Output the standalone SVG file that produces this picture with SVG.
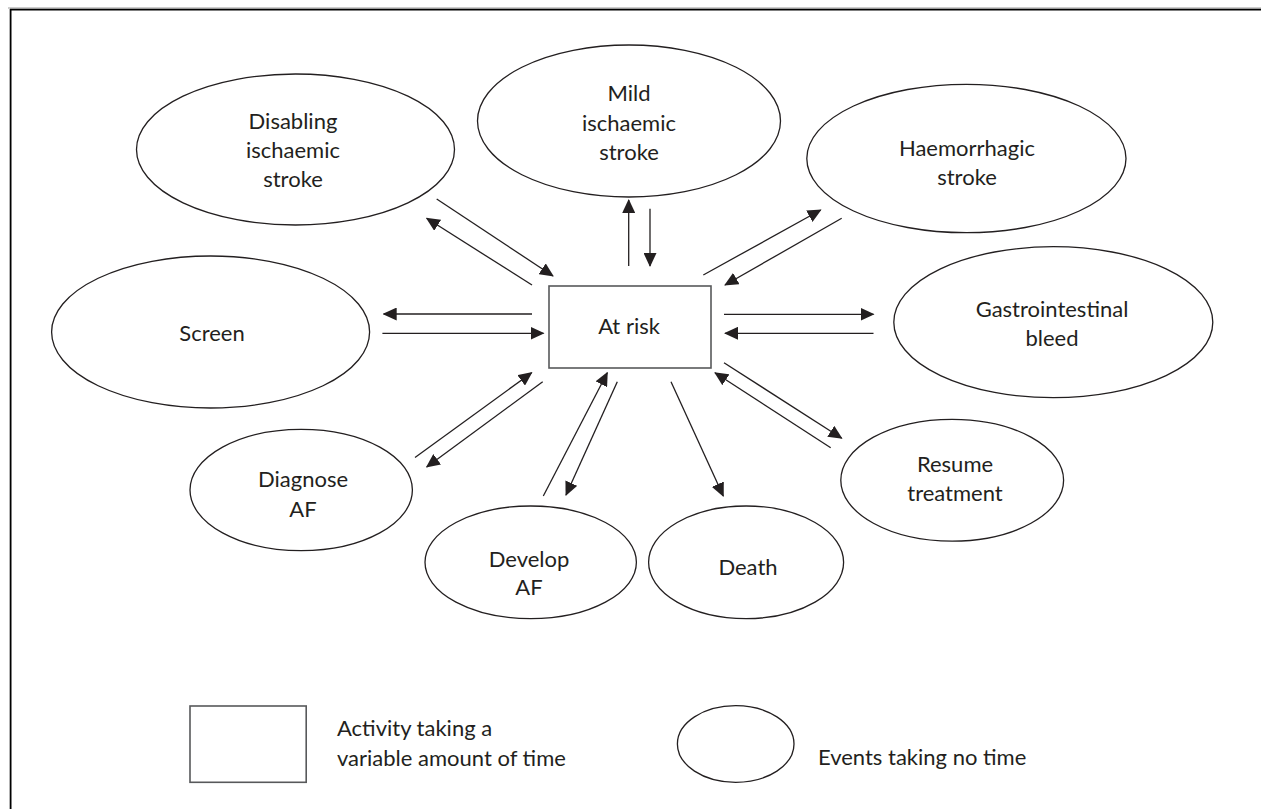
<svg xmlns="http://www.w3.org/2000/svg" width="1261" height="809" viewBox="0 0 1261 809">
<defs>
<style>
.el{fill:#fff;stroke:#231f20;stroke-width:1.3}
.bx{fill:#fff;stroke:#58595b;stroke-width:1.6}
.t{font-family:Lato,"Liberation Sans",sans-serif;font-size:22px;fill:#231f20;text-anchor:middle}
.tl{font-family:Lato,"Liberation Sans",sans-serif;font-size:22px;fill:#231f20;text-anchor:start}
.c line{stroke:#231f20;stroke-width:1.3;marker-end:url(#ah)}
</style>
<marker id="ah" viewBox="0 0 14 13" refX="13" refY="6.5" markerWidth="14" markerHeight="13" markerUnits="userSpaceOnUse" orient="auto">
<path d="M0,0 L14,6.5 L0,13 z" fill="#231f20"/>
</marker>
</defs>
<rect x="0" y="0" width="1261" height="809" fill="#fff"/>
<g id="frame">
<line x1="8" y1="8" x2="1261" y2="8" stroke="#9a9a9a" stroke-width="1"/>
<line x1="10" y1="9.6" x2="1261" y2="9.6" stroke="#000" stroke-width="1.6"/>
<line x1="10.6" y1="9" x2="10.6" y2="809" stroke="#000" stroke-width="1.8"/>
</g>
<g id="node-disabling">
<ellipse class="el" cx="295.5" cy="149.5" rx="159" ry="75.5"/>
<text class="t" x="293" y="129">Disabling</text>
<text class="t" x="293" y="158">ischaemic</text>
<text class="t" x="293" y="187">stroke</text>
</g>
<g id="node-mild">
<ellipse class="el" cx="629" cy="121" rx="151.5" ry="76"/>
<text class="t" x="629" y="101">Mild</text>
<text class="t" x="629" y="131">ischaemic</text>
<text class="t" x="629" y="160">stroke</text>
</g>
<g id="node-haemorrhagic">
<ellipse class="el" cx="966.4" cy="158.5" rx="159.6" ry="74.2"/>
<text class="t" x="967" y="156">Haemorrhagic</text>
<text class="t" x="967" y="185">stroke</text>
</g>
<g id="node-screen">
<ellipse class="el" cx="210.6" cy="332" rx="159" ry="76"/>
<text class="t" x="212" y="341">Screen</text>
</g>
<g id="node-atrisk">
<rect class="bx" x="549" y="286" width="162" height="82"/>
<text class="t" x="629" y="334">At risk</text>
</g>
<g id="node-gi">
<ellipse class="el" cx="1053.3" cy="322.2" rx="159.5" ry="75.5"/>
<text class="t" x="1052" y="317">Gastrointestinal</text>
<text class="t" x="1052" y="346">bleed</text>
</g>
<g id="node-diagnose">
<ellipse class="el" cx="301.2" cy="490" rx="111.2" ry="60.7"/>
<text class="t" x="303" y="487">Diagnose</text>
<text class="t" x="303" y="517">AF</text>
</g>
<g id="node-develop">
<ellipse class="el" cx="530.7" cy="562.3" rx="105.7" ry="56.3"/>
<text class="t" x="529" y="567">Develop</text>
<text class="t" x="529" y="595">AF</text>
</g>
<g id="node-death">
<ellipse class="el" cx="746.1" cy="562.3" rx="97.5" ry="56.3"/>
<text class="t" x="748" y="575">Death</text>
</g>
<g id="node-resume">
<ellipse class="el" cx="952.2" cy="480.2" rx="111.4" ry="60.9"/>
<text class="t" x="955" y="472">Resume</text>
<text class="t" x="955" y="501">treatment</text>
</g>
<g id="connectors" class="c">
<line x1="436.7" y1="199" x2="553" y2="276"/>
<line x1="532" y1="285" x2="426.7" y2="218.3"/>
<line x1="628.7" y1="266" x2="628.7" y2="200"/>
<line x1="650" y1="208.7" x2="650" y2="266"/>
<line x1="703.3" y1="275" x2="820.7" y2="210"/>
<line x1="841.7" y1="218.3" x2="725" y2="285"/>
<line x1="532" y1="314" x2="383.7" y2="314"/>
<line x1="382.4" y1="333.3" x2="543.5" y2="333.3"/>
<line x1="724" y1="314.3" x2="873.5" y2="314.3"/>
<line x1="873.5" y1="333.3" x2="725" y2="333.3"/>
<line x1="415" y1="457.5" x2="531.7" y2="372.7"/>
<line x1="542.7" y1="381.7" x2="426.7" y2="467"/>
<line x1="543.3" y1="496" x2="607.3" y2="372.7"/>
<line x1="617.3" y1="381.7" x2="566" y2="495"/>
<line x1="671" y1="381.7" x2="723.3" y2="496"/>
<line x1="724" y1="362.7" x2="841.7" y2="438.3"/>
<line x1="830.7" y1="447.7" x2="715" y2="372.7"/>
</g>
<g id="legend-activity">
<rect class="bx" x="190" y="706" width="116.2" height="76.3"/>
<text class="tl" x="337" y="736">Activity taking a</text>
<text class="tl" x="337" y="766">variable amount of time</text>
</g>
<g id="legend-event">
<ellipse class="el" cx="735.7" cy="744" rx="58.3" ry="38.3"/>
<text class="tl" x="818" y="765">Events taking no time</text>
</g>
</svg>
